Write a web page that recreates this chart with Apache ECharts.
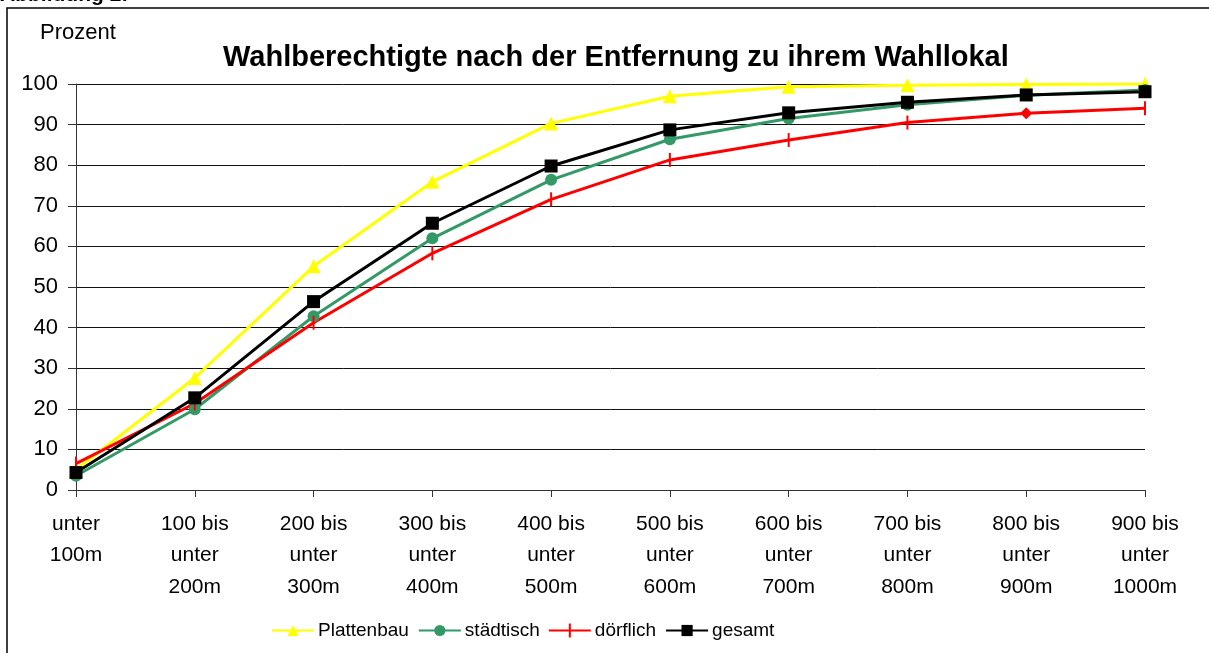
<!DOCTYPE html>
<html>
<head>
<meta charset="utf-8">
<script src="https://cdn.jsdelivr.net/npm/echarts@6/dist/echarts.min.js"></script>
<style>
html,body{margin:0;padding:0;background:#fff;}
#chart{width:1209px;height:653px;}
</style>
</head>
<body>
<div id="chart"></div>
<script>
// Kategorien (Entfernung zum Wahllokal)
var categories = ['unter\n100m', '100 bis\nunter\n200m', '200 bis\nunter\n300m', '300 bis\nunter\n400m',
    '400 bis\nunter\n500m', '500 bis\nunter\n600m', '600 bis\nunter\n700m', '700 bis\nunter\n800m',
    '800 bis\nunter\n900m', '900 bis\nunter\n1000m'];

// kumulierte Anteile in Prozent
var plattenbau = [5.0, 27.6, 55.1, 75.9, 90.3, 97.0, 99.3, 99.7, 99.9, 100];
var staedtisch = [3.5, 19.9, 42.8, 62.0, 76.4, 86.4, 91.5, 94.9, 97.2, 98.5];
var doerflich = [6.5, 21.3, 41.2, 58.3, 71.6, 81.3, 86.2, 90.5, 92.8, 94.0];
var gesamt = [4.3, 22.7, 46.4, 65.7, 79.8, 88.7, 92.9, 95.5, 97.3, 98.1];

var yTicks = [0, 10, 20, 30, 40, 50, 60, 70, 80, 90, 100];

var chart = echarts.init(document.getElementById('chart'));

// dörflich: senkrechter Strich als Marker, bei 800 bis unter 900m eine Raute
var doerflichData = doerflich.map(function (v, i) {
    if (i === 8) {
        return { value: v, symbol: 'diamond', symbolSize: 12 };
    }
    return v;
});

var font = 'Liberation Sans, Arial, sans-serif';
// Legendensymbol für dörflich: Linie mit senkrechtem Strich
var plusIcon = 'path://M0,6 L20,6 L20,0 L22,0 L22,6 L42,6 L42,8 L22,8 L22,14 L20,14 L20,8 L0,8 Z';

var option = {
    backgroundColor: '#fff',
    animation: false,
    textStyle: { fontFamily: font },
    graphic: [
        {
            type: 'rect',
            shape: { x: 7, y: 8, width: 1240, height: 700 },
            style: { fill: 'none', stroke: '#000', lineWidth: 1.5 }
        },
        {
            type: 'text',
            left: 0,
            top: -15,
            style: { text: 'Abbildung 2:', font: 'bold 21px ' + font, fill: '#000' }
        },
        {
            type: 'text',
            left: 40,
            top: 22,
            style: { text: 'Prozent', font: '22px ' + font, fill: '#000' }
        }
    ],
    title: {
        text: 'Wahlberechtigte nach der Entfernung zu ihrem Wahllokal',
        left: 218,
        top: 38,
        textStyle: { fontSize: 29, fontWeight: 'bold', color: '#000', fontFamily: font }
    },
    grid: { left: 76, right: 64, top: 84, bottom: 163 },
    legend: {
        bottom: 8,
        left: 266,
        itemWidth: 42,
        itemHeight: 14,
        itemGap: 9,
        textStyle: { fontSize: 19, color: '#000', fontFamily: font, padding: [0, 0, 0, -1] },
        data: ['Plattenbau', 'städtisch', { name: 'dörflich', icon: plusIcon }, 'gesamt']
    },
    xAxis: {
        type: 'category',
        boundaryGap: false,
        data: categories,
        axisLine: { lineStyle: { color: '#333', width: 1 } },
        axisTick: { show: true, length: 7, alignWithLabel: true, lineStyle: { color: '#333' } },
        axisLabel: {
            interval: 0,
            fontSize: 21,
            lineHeight: 31.5,
            color: '#000',
            margin: 18,
            fontFamily: font
        }
    },
    yAxis: {
        type: 'value',
        min: yTicks[0],
        max: yTicks[yTicks.length - 1],
        interval: 10,
        axisLine: { show: true, lineStyle: { color: '#333', width: 1 } },
        axisTick: { show: true, length: 8, lineStyle: { color: '#333' } },
        axisLabel: { fontSize: 22, color: '#000', margin: 18, fontFamily: font },
        splitLine: { lineStyle: { color: '#111', width: 1 } }
    },
    series: [
        {
            name: 'Plattenbau',
            type: 'line',
            data: plattenbau,
            color: '#ffff00',
            symbol: 'triangle',
            symbolSize: 14,
            lineStyle: { width: 3 }
        },
        {
            name: 'städtisch',
            type: 'line',
            data: staedtisch,
            color: '#339966',
            symbol: 'circle',
            symbolSize: 12,
            lineStyle: { width: 3 }
        },
        {
            name: 'dörflich',
            type: 'line',
            data: doerflichData,
            color: '#ff0000',
            symbol: 'rect',
            symbolSize: [2, 14],
            lineStyle: { width: 3 }
        },
        {
            name: 'gesamt',
            type: 'line',
            data: gesamt,
            color: '#000000',
            symbol: 'rect',
            symbolSize: 13,
            lineStyle: { width: 3 }
        }
    ]
};

chart.setOption(option);
</script>
</body>
</html>
